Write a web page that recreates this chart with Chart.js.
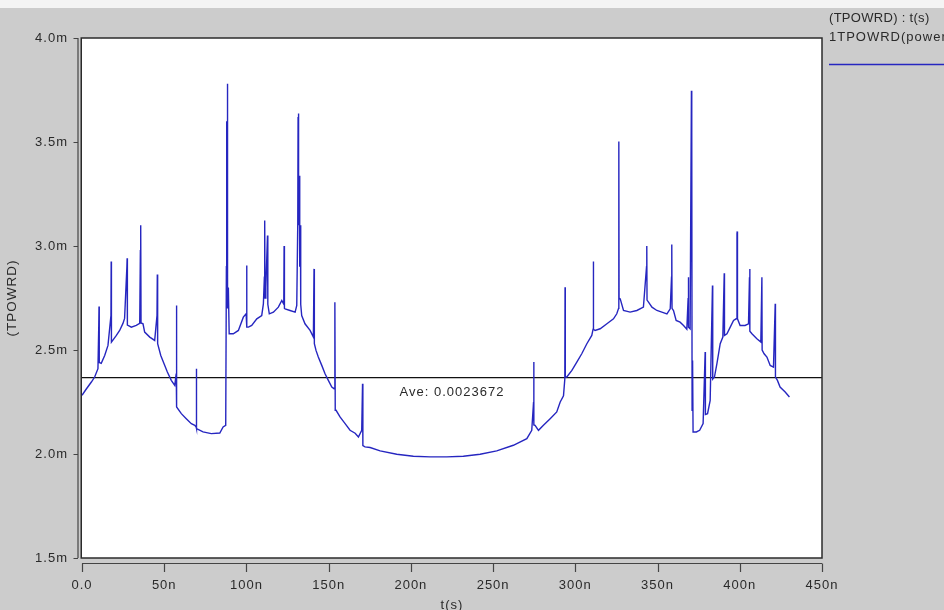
<!DOCTYPE html>
<html>
<head>
<meta charset="utf-8">
<script src="https://cdn.jsdelivr.net/npm/chart.js@4.4.1/dist/chart.umd.min.js"></script>
<style>
  html, body { margin: 0; padding: 0; background: #cccccc; overflow: hidden; }
  #wrap { width: 944px; height: 610px; position: relative; }
</style>
</head>
<body>
<div id="wrap"><canvas id="c" width="944" height="610"></canvas></div>
<script>
// Simulated TPOWRD trace: time in ns, power in milli-units
const timeNs = [
  0, 2.4, 5.7, 7.7, 9.7, 10.2, 10.35, 10.5, 11.7, 13.8, 15.8, 17.6, 17.75, 17.9, 20.9, 22.9, 24.9, 25.9,
  27.3, 27.45, 27.6, 28, 30, 33, 35.1, 35.5, 35.7, 35.9, 37.1, 38.1, 41.2, 44.2, 45.6, 45.8, 46.0,
  47.9, 49.9, 51.9, 54.3, 56.4, 57.3, 57.45, 57.6, 60.4, 63.4, 66.5, 68.6, 69.4, 69.55, 69.7, 73.6,
  78.6, 83.8, 85.8, 87.4, 87.8, 88.0, 88.2, 88.4, 88.6, 89.0, 89.5, 92, 95.1, 98.1, 99.8, 100.1, 100.3,
  101.2, 103.2, 106.3, 109.3, 110.3, 110.9, 111.1, 111.3, 111.8, 112.8, 113.0, 113.9, 116.4, 119.4,
  121.5, 122.7, 122.9, 123.1, 123.5, 126.5, 129.6, 130.6, 131.2, 131.4, 131.6, 131.8, 132.2, 132.4,
  132.8, 133.0, 133.6, 135.6, 138.7, 140.7, 141.1, 141.3, 142.3, 143.7, 145.8, 147.8, 149.8, 151.9,
  153.3, 153.7, 153.85, 154.0, 154.5, 156.9, 160, 163, 166.1, 168.1, 170.1, 170.6, 170.8, 172.1,
  175.2, 181.3, 191.4, 201.5, 211.7, 221.8, 231.9, 242.1, 252.2, 262.3, 270.5, 273.5, 274.6, 274.7,
  274.85, 275.5, 277.6, 280.6, 284.7, 288.7, 290.8, 292.8, 293.6, 293.75, 293.9, 294.8, 297.9, 300.9,
  303.9, 307, 310, 310.8, 310.95, 311.1, 312, 315.1, 319.2, 323.2, 325.2, 326.3, 326.45, 326.6, 327.3,
  329.3, 333.3, 337.4, 341.4, 343.3, 343.45, 343.6, 344.5, 346.6, 349.6, 352.6, 355.7, 357.7, 358.5,
  358.65, 358.8, 359.7, 361.3, 363.7, 365.8, 367.8, 368.6, 368.75, 368.9, 369.8, 370.6, 370.8, 371.0,
  371.3, 371.6, 372.6, 373.6, 375.6, 377.7, 378.95, 379.1, 380.4, 382, 383.4, 383.55, 384.6, 386.1,
  388.1, 389.7, 390.55, 390.7, 392.2, 394.2, 396.2, 397.8, 398.3, 398.45, 398.6, 400.2, 403.2, 405.3,
  405.9, 406.05, 406.2, 407.4, 410.4, 412.8, 413.45, 413.6, 414.8, 416.5, 418.5, 420.5, 421.55, 421.7,
  422.9, 424.5, 427.6, 430.2
];

const powerMilli = [
  2.282, 2.31, 2.346, 2.37, 2.41, 2.62, 2.709, 2.44, 2.436, 2.474, 2.522, 2.665, 2.925, 2.538, 2.57, 2.594, 2.628, 2.652,
  2.90, 2.941, 2.62, 2.618, 2.61, 2.618, 2.628, 2.978, 3.10, 2.63, 2.626, 2.586, 2.562, 2.546, 2.665, 2.863, 2.53,
  2.474, 2.434, 2.394, 2.354, 2.33, 2.387, 2.714, 2.226, 2.194, 2.17, 2.146, 2.138, 2.13, 2.41, 2.122, 2.106,
  2.098, 2.101, 2.13, 2.138, 2.90, 3.6, 2.85, 3.78, 2.7, 2.80, 2.578, 2.578, 2.594, 2.658, 2.674, 2.906, 2.61,
  2.61, 2.618, 2.65, 2.666, 2.722, 2.85, 3.122, 2.75, 2.80, 3.05, 2.72, 2.674, 2.682, 2.706,
  2.738, 2.72, 3.0, 2.70, 2.698, 2.69, 2.682, 2.714, 3.107, 3.62, 3.637, 3.10, 3.338, 2.9,
  3.1, 2.72, 2.666, 2.626, 2.594, 2.562, 2.89, 2.53, 2.498, 2.466, 2.426, 2.386, 2.354, 2.322,
  2.314, 2.49, 2.73, 2.21, 2.21, 2.178, 2.146, 2.114, 2.10, 2.082, 2.114, 2.338, 2.04, 2.034,
  2.031, 2.015, 1.999, 1.989, 1.986, 1.986, 1.989, 1.999, 2.015, 2.042, 2.074, 2.114, 2.25, 2.442,
  2.14, 2.138, 2.114, 2.138, 2.17, 2.202, 2.25, 2.28, 2.36, 2.802, 2.37, 2.37, 2.402, 2.442,
  2.482, 2.53, 2.57, 2.60, 2.925, 2.60, 2.594, 2.602, 2.626, 2.65, 2.674, 2.70, 3.502, 2.75, 2.746,
  2.69, 2.682, 2.69, 2.706, 2.9, 3.0, 2.74, 2.73, 2.706, 2.69, 2.682, 2.674, 2.698, 2.85,
  3.007, 2.70, 2.69, 2.642, 2.634, 2.618, 2.60, 2.75, 2.85, 2.61, 2.602, 3.746, 3.546, 2.21,
  2.45, 2.106, 2.106, 2.106, 2.114, 2.146, 2.49, 2.19, 2.194, 2.258, 2.81, 2.36, 2.37, 2.434,
  2.53, 2.562, 2.869, 2.57, 2.578, 2.61, 2.642, 2.65, 3.06, 3.07, 2.65, 2.618, 2.618, 2.626,
  2.85, 2.89, 2.59, 2.578, 2.554, 2.538, 2.85, 2.50, 2.482, 2.466, 2.426, 2.418, 2.722, 2.37,
  2.354, 2.322, 2.298, 2.274
];

const averageValue = 0.0023672;
const xTickValues = [0, 50, 100, 150, 200, 250, 300, 350, 400, 450];
const yTickValues = [0.0015, 0.002, 0.0025, 0.003, 0.0035, 0.004];
const seriesName = '1TPOWRD(power)';
const legendTitle = '(TPOWRD) : t(s)';
const xTitle = 't(s)';
const yTitle = '(TPOWRD)';

const FONT = '"Liberation Sans", Arial, sans-serif';
const TEXT = '#2a2a2a';
const BLUE = '#2626c0';

const points = timeNs.map((t, i) => ({ x: t, y: powerMilli[i] / 1000 }));
const avgPoints = [{ x: 0, y: averageValue }, { x: 450, y: averageValue }];

const framePlugin = {
  id: 'frame',
  beforeDraw(chart) {
    const { ctx, chartArea: a, width, height } = chart;
    ctx.save();
    ctx.fillStyle = '#cccccc';
    ctx.fillRect(0, 0, width, height);
    ctx.fillStyle = '#f4f4f4';
    ctx.fillRect(0, 0, width, 8);
    ctx.fillStyle = '#ffffff';
    ctx.fillRect(a.left, a.top, a.right - a.left, a.bottom - a.top);
    ctx.restore();
    // the plotter's lettering is loosely spaced
    ctx.letterSpacing = '1px';
  },
  afterDatasetsDraw(chart) {
    const { ctx, chartArea: a, scales } = chart;
    const xs = scales.x, ys = scales.y;
    ctx.save();
    // plot frame
    ctx.strokeStyle = '#2b2b2b';
    ctx.lineWidth = 1.5;
    ctx.strokeRect(a.left - 0.75, a.top, a.right - a.left + 0.75, a.bottom - a.top);

    // detached y axis with tick marks
    ctx.strokeStyle = '#444';
    ctx.lineWidth = 1.2;
    ctx.beginPath();
    ctx.moveTo(78, a.top);
    ctx.lineTo(78, a.bottom);
    ys.ticks.forEach(t => {
      const py = Math.round(ys.getPixelForValue(t.value)) + 0.5;
      ctx.moveTo(73.5, py);
      ctx.lineTo(78, py);
    });
    ctx.stroke();

    // detached x axis with tick marks
    ctx.beginPath();
    ctx.moveTo(a.left, 563.5);
    ctx.lineTo(a.right, 563.5);
    xs.ticks.forEach(t => {
      const px = Math.round(xs.getPixelForValue(t.value)) + 0.5;
      ctx.moveTo(px, 563.5);
      ctx.lineTo(px, 572);
    });
    ctx.stroke();

    // average annotation
    ctx.fillStyle = TEXT;
    ctx.font = '13px ' + FONT;
    ctx.letterSpacing = '1px';
    ctx.textAlign = 'center';
    ctx.textBaseline = 'middle';
    ctx.fillText('Ave: ' + averageValue, (a.left + a.right) / 2, ys.getPixelForValue(averageValue) + 15);

    // legend block
    ctx.textAlign = 'left';
    ctx.letterSpacing = '0.3px';
    ctx.fillText(legendTitle, 829, 18);
    ctx.letterSpacing = '1px';
    ctx.fillText(seriesName, 829, 37);
    ctx.strokeStyle = BLUE;
    ctx.lineWidth = 1.3;
    ctx.beginPath();
    ctx.moveTo(829, 64.5);
    ctx.lineTo(944, 64.5);
    ctx.stroke();
    ctx.restore();
  }
};

new Chart(document.getElementById('c'), {
  type: 'line',
  data: {
    datasets: [
      {
        label: seriesName,
        data: points,
        borderColor: BLUE,
        borderWidth: 1.4,
        pointRadius: 0,
        tension: 0,
        fill: false
      },
      {
        label: 'Ave',
        data: avgPoints,
        borderColor: '#111111',
        borderWidth: 1.3,
        pointRadius: 0,
        fill: false
      }
    ]
  },
  options: {
    responsive: false,
    animation: false,
    events: [],
    layout: { padding: { left: 0, right: 122, top: 38, bottom: 0 } },
    plugins: { legend: { display: false }, tooltip: { enabled: false }, title: { display: false } },
    scales: {
      x: {
        type: 'linear',
        min: 0,
        max: 450,
        afterBuildTicks: s => { s.ticks = xTickValues.map(v => ({ value: v })); },
        afterFit: s => { s.height = 52; },
        grid: { display: false },
        border: { display: false },
        ticks: {
          padding: 12,
          color: TEXT,
          font: { family: FONT, size: 13 },
          maxRotation: 0,
          callback: v => (v === 0 ? '0.0' : v + 'n')
        },
        title: { display: true, text: xTitle, color: TEXT, font: { family: FONT, size: 13 }, padding: { top: 0, bottom: -3 } }
      },
      y: {
        type: 'linear',
        min: 0.0015,
        max: 0.004,
        afterBuildTicks: s => { s.ticks = yTickValues.map(v => ({ value: v })); },
        afterFit: s => { s.width = 82; },
        grid: { display: false },
        border: { display: false },
        ticks: {
          padding: 6,
          color: TEXT,
          font: { family: FONT, size: 13 },
          callback: v => (v * 1000).toFixed(1) + 'm'
        },
        title: { display: true, text: yTitle, color: TEXT, font: { family: FONT, size: 13.5 }, padding: { top: 4, bottom: 0 } }
      }
    }
  },
  plugins: [framePlugin]
});
</script>
</body>
</html>
